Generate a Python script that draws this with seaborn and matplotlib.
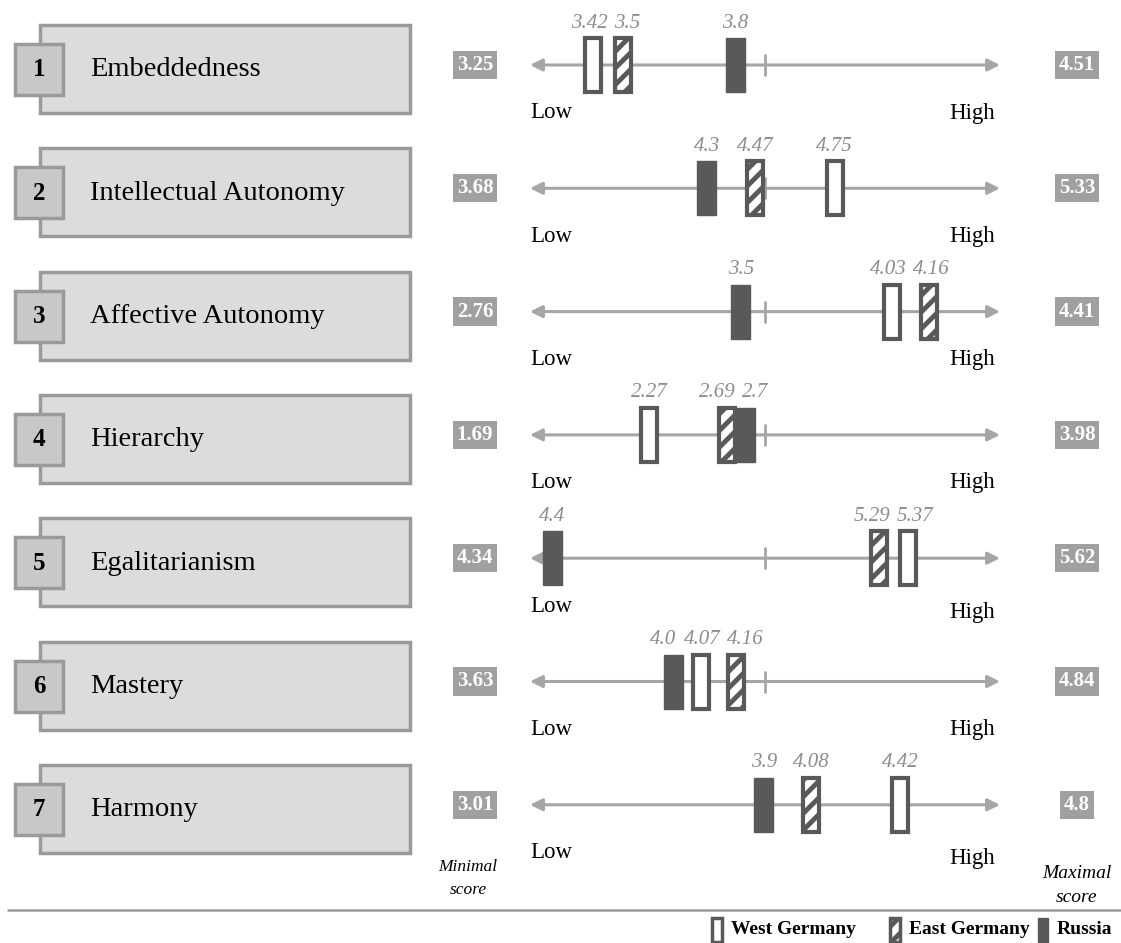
import numpy as np
import seaborn as sns
import matplotlib.pyplot as plt
from matplotlib.patches import Rectangle

# values of the seven cultural orientations
names = ['Embeddedness', 'Intellectual Autonomy', 'Affective Autonomy', 'Hierarchy',
         'Egalitarianism', 'Mastery', 'Harmony']
min_scores = [3.25, 3.68, 2.76, 1.69, 4.34, 3.63, 3.01]
max_scores = [4.51, 5.33, 4.41, 3.98, 5.62, 4.84, 4.8]
west = [3.42, 4.75, 4.03, 2.27, 5.37, 4.07, 4.42]
east = [3.5, 4.47, 4.16, 2.69, 5.29, 4.16, 4.08]
russia = [3.8, 4.3, 3.5, 2.7, 4.4, 4.0, 3.9]
countries = ['West Germany', 'East Germany', 'Russia']

sns.set_theme(style='white')
plt.rcParams['font.family'] = ['Liberation Serif', 'DejaVu Serif']
plt.rcParams['hatch.linewidth'] = 3.5
plt.rcParams['hatch.color'] = '#595959'


def fmt(v):
    s = f'{v:.2f}'.rstrip('0')
    return s + '0' if s.endswith('.') else s


W, H = 1121, 943
fig = plt.figure(figsize=(W / 100, H / 100), dpi=100)
bg = fig.add_axes([0, 0, 1, 1])
bg.set_xlim(0, W)
bg.set_ylim(H, 0)
bg.axis('off')

dark = '#595959'
axis_grey = '#a6a6a6'
label_grey = '#8c8c8c'

x0, x1 = 530, 1000      # pixel span of the scale arrow
bar_px = 19
row_gap = 123.3

for i, name in enumerate(names):
    yc = 69 + row_gap * i
    yl = yc - 4
    # left label block
    bg.add_patch(Rectangle((40, yc - 44), 370, 88, facecolor='#dcdcdc', edgecolor='#9a9a9a', lw=2.5))
    bg.add_patch(Rectangle((15, yc - 25), 48, 51, facecolor='#c8c8c8', edgecolor='#9a9a9a', lw=2.5))
    bg.text(39, yc + 1, str(i + 1), ha='center', va='center', fontsize=18, fontweight='bold', color='black')
    bg.text(90, yc + 1, name, ha='left', va='center', fontsize=20.5, color='black')

    # min / max boxes
    for xx, v in [(475, min_scores[i]), (1077, max_scores[i])]:
        bg.text(xx, yl, fmt(v), ha='center', va='center', fontsize=15, fontweight='bold', color='white',
                bbox=dict(boxstyle='square,pad=0.2', facecolor='#a0a0a0', edgecolor='none'))

    bg.text(x0, yl + 48, 'Low', ha='left', va='center', fontsize=16.5, color='black')
    bg.text(x1 - 5, yl + (54 if i in (4, 6) else 48), 'High', ha='right', va='center', fontsize=16.5, color='black')

    # the scale itself
    lo, hi = min_scores[i], max_scores[i]
    mid = lo + (hi - lo) / 2
    ax = fig.add_axes([x0 / W, 1 - (yl + 40) / H, (x1 - x0) / W, 80 / H])
    ax.set_xlim(lo, hi)
    ax.set_ylim(-40, 40)
    ax.axis('off')
    for end in (lo, hi):
        ax.annotate('', xy=(end, 0), xytext=(mid, 0), zorder=1,
                    arrowprops=dict(arrowstyle='-|>', color=axis_grey, lw=2.2, mutation_scale=18,
                                    shrinkA=0, shrinkB=0))
    ax.plot([mid, mid], [-10, 10], color=axis_grey, lw=2, zorder=1)

    # bars; bars that would overlap are pushed apart
    bw = bar_px / (x1 - x0) * (hi - lo)
    vals = [west[i], east[i], russia[i]]
    order = list(np.argsort(vals))
    pos = np.array(vals, dtype=float)
    for a, b in zip(order[:-1], order[1:]):
        if pos[b] - pos[a] < bw:
            m = (pos[a] + pos[b]) / 2
            pos[a], pos[b] = m - bw / 2, m + bw / 2
    styles = [dict(facecolor='white', edgecolor=dark, hatch=None, lw=3),
              dict(facecolor='white', edgecolor=dark, hatch='//', lw=3),
              dict(facecolor=dark, edgecolor=dark, hatch=None, lw=1)]
    for p, st in zip(pos, styles):
        ax.bar(p, 54, bottom=-27, width=bw * (0.84 if st['lw'] == 3 else 1.0), zorder=3, **st)

    # value labels above the bars, spread so they do not collide
    px = x0 + (pos - lo) / (hi - lo) * (x1 - x0)
    texts = [fmt(v) for v in vals]
    widths = np.array([len(t) * 9.0 for t in texts])
    lab = px.copy()
    for _ in range(20):
        for a, b in zip(order[:-1], order[1:]):
            need = (widths[a] + widths[b]) / 2 + 7
            gap = lab[b] - lab[a]
            if gap < need:
                lab[a] -= (need - gap) / 2
                lab[b] += (need - gap) / 2
    for lx, t in zip(lab, texts):
        bg.text(lx, yl - 42, t, ha='center', va='center', fontsize=15, style='italic', color=label_grey)

bg.text(468, 867, 'Minimal', ha='center', va='center', fontsize=12.5, style='italic', color='black')
bg.text(468, 890, 'score', ha='center', va='center', fontsize=12.5, style='italic', color='black')
bg.text(1077, 873, 'Maximal', ha='center', va='center', fontsize=14, style='italic', color='black')
bg.text(1077, 897, 'score', ha='center', va='center', fontsize=14, style='italic', color='black')
bg.plot([8, W], [910, 910], color='#9a9a9a', lw=1.8)

# legend
leg_x = [712, 890, 1038]
for lx, c, st in zip(leg_x, countries, [dict(facecolor='white', hatch=None, lw=2.5),
                                          dict(facecolor='white', hatch='//', lw=2.5),
                                          dict(facecolor=dark, hatch=None, lw=1)]):
    bg.add_patch(Rectangle((lx, 918), 10, 24, edgecolor=dark, **st))
    bg.text(lx + 19, 930, c, ha='left', va='center', fontsize=14, fontweight='bold', color='black')

fig.savefig('out.png', dpi=100)
